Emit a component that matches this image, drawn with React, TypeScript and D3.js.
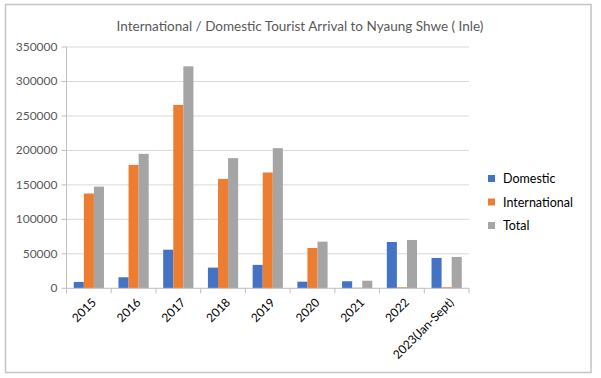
import React from "react";
import * as d3 from "d3";

const categories = ["2015", "2016", "2017", "2018", "2019", "2020", "2021", "2022", "2023(Jan-Sept)"];
const domestic = [9200, 16000, 56000, 30000, 34000, 9600, 10200, 67200, 44000];
const international = [137500, 179000, 266000, 158700, 168000, 58500, 800, 1500, 1500];
const total = [147500, 195000, 322000, 188800, 203300, 67700, 11000, 70100, 45500];
const seriesNames = ["Domestic", "International", "Total"];
const seriesColors = ["#4472C4", "#ED7D31", "#A5A5A5"];
const yTicks = [0, 50000, 100000, 150000, 200000, 250000, 300000, 350000];
const title = "International / Domestic Tourist Arrival to Nyaung Shwe ( Inle)";

export default function App() {
  const W = 601, H = 378;
  const left = 66.5, right = 469, top = 47, bottom = 288.3;
  const font = "Lato, 'Open Sans', sans-serif";
  const x = d3.scaleBand<string>().domain(categories).range([left, right]).paddingInner(0).paddingOuter(0);
  const inner = d3.scaleBand<string>().domain(seriesNames).range([0, x.bandwidth()]).paddingInner(0).paddingOuter(0.72);
  const y = d3.scaleLinear().domain([0, 350000]).range([bottom, top]);
  const series = [domestic, international, total];
  const fmt = d3.format("d");

  return (
    <svg width={W} height={H} style={{ position: "absolute", left: 0, top: 0 }}>
      <rect x={0} y={0} width={W} height={H} fill="#fff" />
      <rect x={5.5} y={4.5} width={585.5} height={368} fill="#fff" stroke="#c4c4c4" strokeWidth={1.5} />
      <text x={300} y={31} textAnchor="middle" fontFamily={font} fontSize={13.5} fill="#595959">{title}</text>
      {yTicks.map((t) => (
        <g key={t}>
          {t > 0 && <line x1={left} x2={right} y1={y(t)} y2={y(t)} stroke="#d9d9d9" strokeWidth={1} />}
          <line x1={left - 5} x2={left} y1={y(t)} y2={y(t)} stroke="#bfbfbf" strokeWidth={1} />
          <text x={left - 9} y={y(t) + 4} textAnchor="end" fontFamily={font} fontSize={12} fill="#595959">{fmt(t)}</text>
        </g>
      ))}
      {series.map((vals, si) => (
        <g key={si}>
          {categories.map((c, ci) => (
            <rect key={c} x={(x(c) as number) + (inner(seriesNames[si]) as number)} width={inner.bandwidth()}
              y={y(vals[ci])} height={bottom - y(vals[ci])} fill={seriesColors[si]} />
          ))}
        </g>
      ))}
      <line x1={left} x2={left} y1={top} y2={bottom} stroke="#bfbfbf" strokeWidth={1} />
      <line x1={left} x2={right} y1={bottom} y2={bottom} stroke="#bfbfbf" strokeWidth={1} />
      {categories.map((c, i) => (
        <line key={"t" + c} x1={left + i * x.bandwidth()} x2={left + i * x.bandwidth()} y1={bottom} y2={bottom + 5} stroke="#bfbfbf" />
      ))}
      <line x1={right} x2={right} y1={bottom} y2={bottom + 5} stroke="#bfbfbf" />
      {categories.map((c) => {
        const cx = (x(c) as number) + x.bandwidth() / 2 + 2;
        const cy = bottom + 9;
        return (
          <text key={"l" + c} transform={`translate(${cx},${cy}) rotate(-45)`} textAnchor="end" dy="0.7em"
            fontFamily={font} fontSize={12} fill="#000">{c}</text>
        );
      })}
      {seriesNames.map((s, i) => (
        <g key={s}>
          <rect x={488} y={175 + i * 23.5} width={7} height={7} fill={seriesColors[i]} />
          <text x={503} y={183 + i * 23.5} fontFamily={font} fontSize={12.5} fill="#000">{s}</text>
        </g>
      ))}
    </svg>
  );
}
